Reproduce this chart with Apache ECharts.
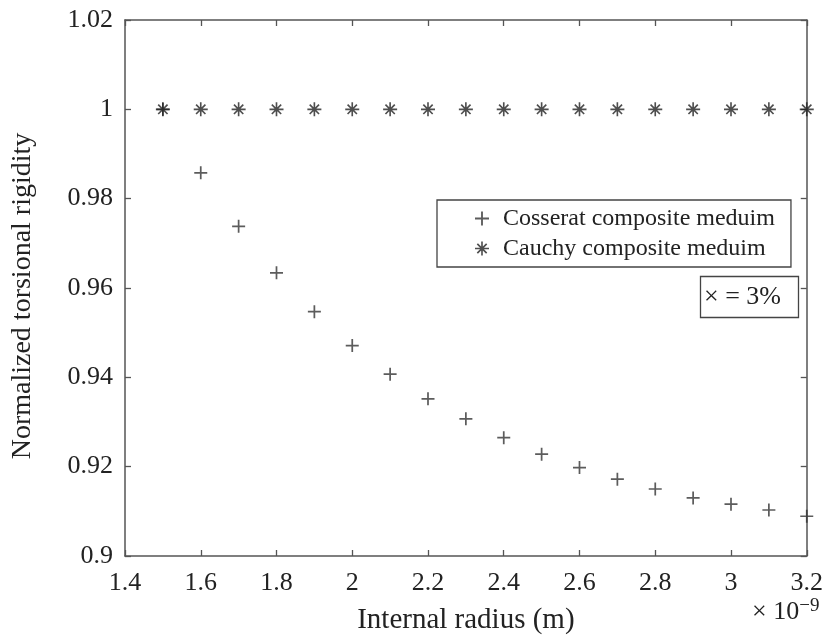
<!DOCTYPE html>
<html>
<head>
<meta charset="utf-8">
<script src="https://cdn.jsdelivr.net/npm/echarts@6/dist/echarts.min.js"></script>
<style>
  html, body { margin: 0; padding: 0; background: #fff; }
  #chart { width: 826px; height: 640px; }
</style>
</head>
<body>
<div id="chart"></div>
<script>
// Internal radius (×1e-9 m)
const radius = [1.5, 1.6, 1.7, 1.8, 1.9, 2.0, 2.1, 2.2, 2.3, 2.4, 2.5, 2.6, 2.7, 2.8, 2.9, 3.0, 3.1, 3.2];
// Normalized torsional rigidity
const cosserat = [1.0, 0.9858, 0.9738, 0.9634, 0.9547, 0.9471, 0.9407, 0.9352, 0.9307, 0.9265,
                  0.9228, 0.9198, 0.9172, 0.9150, 0.9130, 0.9116, 0.9103, 0.9089];
const cauchy = [1, 1, 1, 1, 1, 1, 1, 1, 1, 1, 1, 1, 1, 1, 1, 1, 1, 1];

const seriesNames = ['Cosserat composite meduim', 'Cauchy composite meduim'];
const xTicks = { min: 1.4, max: 3.2, step: 0.2 };
const yTicks = { min: 0.9, max: 1.02, step: 0.02 };

// Marker shapes: plus and asterisk (plus + cross), drawn as filled bars
const PLUS = 'path://M0,5.2L12,5.2L12,6.8L0,6.8Z M5.2,0L6.8,0L6.8,12L5.2,12Z';
const STAR = 'path://M0,5.3L12,5.3L12,6.7L0,6.7Z M5.3,0L6.7,0L6.7,12L5.3,12Z ' +
  'M2.5,1.5L10.5,9.5L9.5,10.5L1.5,2.5Z M10.5,2.5L2.5,10.5L1.5,9.5L9.5,1.5Z';

const FONT = '"Liberation Serif", "Times New Roman", serif';
const AX = '#555';

const pair = (xs, ys) => xs.map((x, i) => [x, ys[i]]);

const chart = echarts.init(document.getElementById('chart'), null, { renderer: 'canvas' });

const axisCommon = {
  axisLine: { show: true, onZero: false, lineStyle: { color: AX, width: 1.5 } },
  axisTick: { show: true, inside: true, length: 6, lineStyle: { color: AX, width: 1.3 } },
  splitLine: { show: false }
};

chart.setOption({
  backgroundColor: '#fff',
  animation: false,
  grid: { left: 125, right: 14, top: 20, bottom: 79 },
  xAxis: [
    Object.assign({
      type: 'value', position: 'bottom',
      min: xTicks.min, max: xTicks.max, interval: xTicks.step,
      name: 'Internal radius (m)', nameLocation: 'middle', nameGap: 50,
      nameTextStyle: { fontFamily: FONT, fontSize: 29, color: '#222' },
      axisLabel: { fontFamily: FONT, fontSize: 26, color: '#222', margin: 14 }
    }, axisCommon),
    Object.assign({
      type: 'value', position: 'top',
      min: xTicks.min, max: xTicks.max, interval: xTicks.step,
      axisLabel: { show: false }
    }, axisCommon)
  ],
  yAxis: [
    Object.assign({
      type: 'value', position: 'left',
      min: yTicks.min, max: yTicks.max, interval: yTicks.step,
      name: 'Normalized torsional rigidity', nameLocation: 'middle', nameGap: 88,
      nameTextStyle: { fontFamily: FONT, fontSize: 28, color: '#222', padding: [0, 16, 0, 0] },
      axisLabel: { fontFamily: FONT, fontSize: 26, color: '#222', margin: 12 }
    }, axisCommon),
    Object.assign({
      type: 'value', position: 'right',
      min: yTicks.min, max: yTicks.max, interval: yTicks.step,
      axisLabel: { show: false }
    }, axisCommon)
  ],
  legend: {
    orient: 'vertical',
    left: 437, top: 200,
    padding: [5, 16, 5, 38],
    itemGap: 3,
    itemWidth: 14, itemHeight: 14,
    itemStyle: { borderWidth: 0 },
    borderColor: '#444', borderWidth: 1.3,
    textStyle: { fontFamily: FONT, fontSize: 24, color: '#222', lineHeight: 27, padding: [0, 0, 0, 9] },
    data: [
      { name: seriesNames[0], icon: PLUS },
      { name: seriesNames[1], icon: STAR }
    ]
  },
  title: {
    text: '× = 3%',
    left: 700, top: 276,
    padding: [8, 18, 8, 4],
    borderColor: '#444', borderWidth: 1.3,
    textStyle: { fontFamily: FONT, fontSize: 26, fontWeight: 'normal', color: '#222' }
  },
  graphic: [{
    type: 'text',
    left: 752, top: 597,
    style: {
      text: '× 10{sup|−9}',
      font: '26px ' + FONT,
      fill: '#222',
      rich: { sup: { fontFamily: FONT, fontSize: 19, verticalAlign: 'top', padding: [0, 0, 12, 0] } }
    }
  }],
  series: [
    {
      name: seriesNames[0], type: 'scatter',
      xAxisIndex: 0, yAxisIndex: 0,
      symbol: PLUS, symbolSize: 13, clip: false,
      itemStyle: { color: '#333' },
      data: pair(radius, cosserat)
    },
    {
      name: seriesNames[1], type: 'scatter',
      xAxisIndex: 0, yAxisIndex: 0,
      symbol: STAR, symbolSize: 14, clip: false,
      itemStyle: { color: '#222' },
      data: pair(radius, cauchy)
    }
  ]
});
</script>
</body>
</html>
